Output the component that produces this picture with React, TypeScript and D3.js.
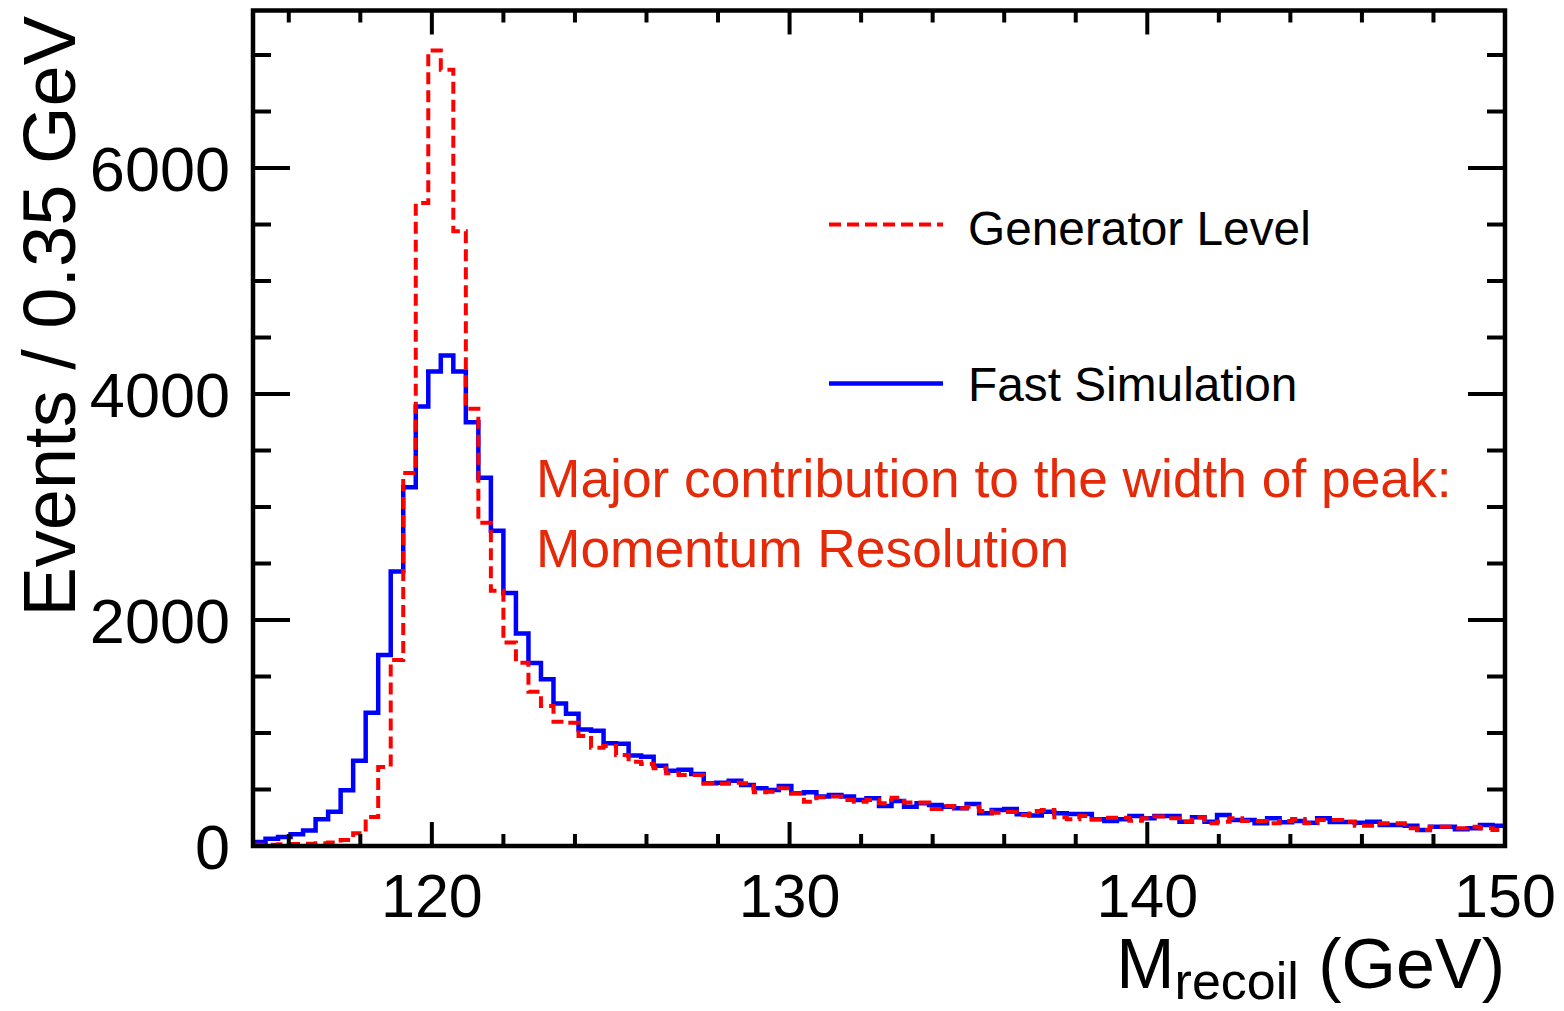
import React from 'react';
import * as d3 from 'd3';

// Histogram binning (GeV)
const binLow = 115;
const binHigh = 150;
const binWidth = 0.35;

// Events per 0.35 GeV bin
const generatorLevel = [
  10, 12, 15, 18, 20, 25, 30, 53, 112, 257,
  700, 1646, 3300, 5690, 7040, 6870, 5440, 3870, 2860, 2260,
  1800, 1622, 1366, 1239, 1100, 1090, 973, 870, 885, 805,
  746, 726, 688, 643, 628, 628, 555, 550, 560, 555,
  475, 480, 510, 466, 392, 431, 437, 407, 392, 407,
  378, 427, 385, 386, 327, 354, 333, 348, 310, 295,
  301, 274, 310, 319, 254, 236, 265, 236, 251, 251,
  224, 245, 260, 245, 215, 254, 201, 215, 245, 221,
  221, 201, 221, 239, 201, 230, 230, 215, 180, 180,
  201, 201, 157, 142, 171, 171, 157, 171, 157, 142,
];

const fastSimulation = [
  35, 65, 80, 105, 138, 236, 304, 493, 755, 1180,
  1690, 2430, 3174, 3890, 4200, 4340, 4200, 3750, 3260, 2790,
  2240, 1880, 1620, 1475, 1260, 1170, 1030, 1020, 910, 905,
  800, 790, 710, 665, 675, 637, 555, 560, 578, 540,
  510, 495, 530, 466, 475, 437, 451, 437, 407, 422,
  354, 398, 348, 378, 363, 348, 333, 372, 289, 319,
  327, 280, 271, 304, 289, 283, 283, 236, 221, 236,
  265, 245, 265, 265, 215, 254, 215, 274, 230, 230,
  201, 245, 210, 221, 206, 245, 213, 213, 206, 215,
  186, 186, 180, 142, 171, 171, 148, 157, 186, 180,
];

const xMajorTicks = [120, 130, 140, 150];
const xMinorStep = 2;
const yMajorTicks = [0, 2000, 4000, 6000];
const yMinorStep = 500;
const yMax = 7394;

const legendLabels = ['Generator Level', 'Fast Simulation'];
const annotationLines = ['Major contribution to the width of peak:', 'Momentum Resolution'];
const yTitle = 'Events / 0.35 GeV';

const FONT = '"Liberation Sans", Arial, Helvetica, sans-serif';

export default function App() {
  const left = 253, right = 1505, top = 10.5, bottom = 846;
  const x = d3.scaleLinear().domain([binLow, binHigh]).range([left, right]);
  const y = d3.scaleLinear().domain([0, yMax]).range([bottom, top]);

  const histPath = (vals: number[]) => {
    const pts: [number, number][] = vals.map((v, i) => [binLow + i * binWidth, v]);
    pts.push([binHigh, vals[vals.length - 1]]);
    return d3.line<[number, number]>()
      .x(d => x(d[0]))
      .y(d => y(d[1]))
      .curve(d3.curveStepAfter)(pts) || '';
  };

  const xMinor = d3.range(binLow + 1, binHigh + 0.001, xMinorStep).filter(v => !xMajorTicks.includes(v));
  const yMinor = d3.range(0, yMax, yMinorStep).filter(v => !yMajorTicks.includes(v));

  const xMajLen = 24, xMinLen = 12, yMajLen = 37, yMinLen = 18;
  const tickStroke = 4;

  return (
    <svg width={1564} height={1011} style={{ position: 'absolute', left: 0, top: 0, background: '#fff' }}
      fontFamily={FONT}>
      {/* histograms */}
      <path d={histPath(fastSimulation)} fill="none" stroke="#0000ff" strokeWidth={4.5} />
      <path d={histPath(generatorLevel)} fill="none" stroke="#ff0000" strokeWidth={4} strokeDasharray="12,6" />

      {/* ticks */}
      <g stroke="#000" strokeWidth={tickStroke}>
        {xMajorTicks.map(t => (
          <g key={'xM' + t}>
            <line x1={x(t)} x2={x(t)} y1={bottom} y2={bottom - xMajLen} />
            <line x1={x(t)} x2={x(t)} y1={top} y2={top + xMajLen} />
          </g>
        ))}
        {xMinor.map(t => (
          <g key={'xm' + t}>
            <line x1={x(t)} x2={x(t)} y1={bottom} y2={bottom - xMinLen} />
            <line x1={x(t)} x2={x(t)} y1={top} y2={top + xMinLen} />
          </g>
        ))}
        {yMajorTicks.map(t => (
          <g key={'yM' + t}>
            <line x1={left} x2={left + yMajLen} y1={y(t)} y2={y(t)} />
            <line x1={right} x2={right - yMajLen} y1={y(t)} y2={y(t)} />
          </g>
        ))}
        {yMinor.map(t => (
          <g key={'ym' + t}>
            <line x1={left} x2={left + yMinLen} y1={y(t)} y2={y(t)} />
            <line x1={right} x2={right - yMinLen} y1={y(t)} y2={y(t)} />
          </g>
        ))}
      </g>

      {/* frame */}
      <rect x={left} y={top} width={right - left} height={bottom - top} fill="none" stroke="#000" strokeWidth={4.5} />

      {/* tick labels */}
      {xMajorTicks.map(t => (
        <text key={'xl' + t} x={x(t)} y={917} textAnchor="middle" fontSize={61} fill="#000">{t}</text>
      ))}
      {yMajorTicks.map(t => (
        <text key={'yl' + t} x={230} y={y(t) + 23} textAnchor="end" fontSize={63} fill="#000">{t}</text>
      ))}

      {/* axis titles */}
      <text x={right} y={988} textAnchor="end" fontSize={70} fill="#000">
        M<tspan fontSize={52} dy={11}>recoil</tspan><tspan dy={-11}> (GeV)</tspan>
      </text>
      <text transform={`translate(75, 16) rotate(-90)`} textAnchor="end" fontSize={74} fill="#000">{yTitle}</text>

      {/* legend */}
      <line x1={829} x2={943} y1={224.5} y2={224.5} stroke="#ff0000" strokeWidth={4} strokeDasharray="12,6" />
      <text x={968} y={245} fontSize={47.8} fill="#000">{legendLabels[0]}</text>
      <line x1={829} x2={943} y1={383.5} y2={383.5} stroke="#0000ff" strokeWidth={4.5} />
      <text x={968} y={401} fontSize={47.8} fill="#000">{legendLabels[1]}</text>

      {/* annotation */}
      {annotationLines.map((s, i) => (
        <text key={'a' + i} x={536} y={497 + i * 70} fontSize={53.3} fill="#e42a08">{s}</text>
      ))}
    </svg>
  );
}
